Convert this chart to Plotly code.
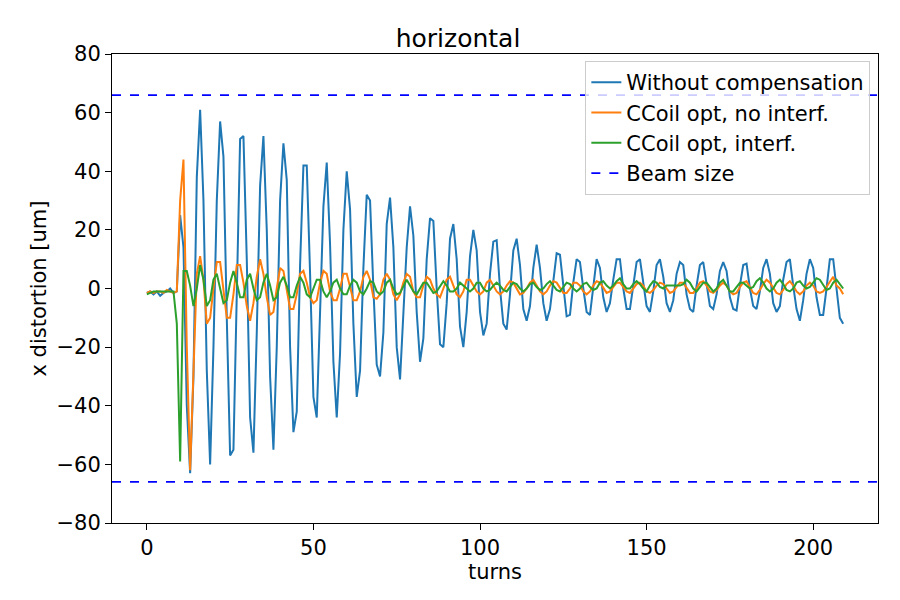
import plotly.graph_objects as go

turns = list(range(210))

# Without compensation
no_comp = [-1.5, -1, -2, -1, -2.5, -1.5, -1, 0, -1.5, -1,
           25, 14, -40, -63, -30, 38, 61, 30, -28, -60,
           -20, 30, 57, 45, -10, -57, -55, 0, 51, 52,
           10, -44, -56, -15, 35, 52, 20, -30, -55, -20,
           30, 49.5, 37, -20, -49, -42, 8, 42, 42, 5,
           -37, -44, -5, 28, 43, 15, -25, -44, -22, 20,
           40, 27, -12, -37, -28, 7, 32, 30, 0, -26,
           -30, -15, 22, 31, 14, -20, -31, -10, 14, 28,
           18, -8, -25, -17, 10, 24, 23, 0, -19, -20,
           -5, 17, 22, 10, -13, -20, -8, 11, 20, 13,
           -8, -16, -12, 5, 16, 16.5, 0, -12, -14, -2,
           13, 17, 8, -7, -11, -6, 7, 15, 7, -5,
           -11, -7, 3, 12, 11.5, 2, -9.5, -9, 2, 10,
           9, 0, -8, -9, 1, 10, 7, -3, -8, -5,
           3, 10, 10, 0, -7, -7, 1, 9, 10, 2,
           -6, -8, -1, 8, 10, 4, -5, -8, -4, 5,
           9, 8, -2, -7, -8, 1, 8, 9, 2, -6,
           -7, -2, 6, 9, 6, -3, -7, -7.5, 1, 8,
           8.5, 0, -6, -7, -1, 7, 10, 5, -5, -8,
           -6, 3, 9, 10, 1, -7, -11, -4, 5, 10,
           7, -3, -9, -9, 0, 10, 10, -1, -10, -12]

# CCoil opt, no interf.
no_interf = [-1.5, -1, -1.5, -1, -1, -1.5, -0.5, -1, -1.5, -1,
             30, 44, -20, -62, -25, 5, 11, 3, -12, -10,
             0, 9, 9, 0, -10, -10, -2, 8, 8, 2,
             -6, -11, -5, 4, 10, 5, -3, -9, -8, 0,
             7, 6, 0, -7, -7, -2, 5, 6, 2, -3,
             -5, -4, 2, 6, 5, -1, -4, -4, 0, 5,
             5, 0, -4, -4, -1, 4, 6, 3, -3, -3.5,
             -2, 3, 5, 3, -2, -4, -2, 2, 5, 4,
             -1, -3, -3, 1, 4, 3, 0, -2, -3, 0,
             3, 4, 1, -2, -3, -1, 3, 3, 1, -1,
             -2, -1, 2, 3, 1, -1, -2, -1, 1, 2.5,
             2, 0, -2, -1.5, 0, 2, 3, 1, -1, -2,
             -1, 1, 2.5, 2, 0, -1.5, -1.5, 0, 2, 2,
             1, -1, -2, -1, 1, 2.5, 2, 0, -1.5, -1,
             0.5, 2, 2, 0.5, -1, -1.5, 0, 1.5, 2, 1,
             -1, -1.5, -0.5, 1, 2, 1.5, 0, -1.5, -1, 0.5,
             2, 2, 0, -1.5, -1.5, 0, 2, 2.5, 1, -1,
             -1.5, -0.5, 1, 2, 1, -1, -2, -1.5, 0.5, 2,
             2.5, 0.5, -1.5, -2, -0.5, 1.5, 3, 2, 0, -1.5,
             -2, -0.5, 1.5, 2.5, 1, -1, -2, -1, 1, 2,
             1, -1, -1.5, -1, 0.5, 2.5, 4, 1, 0, -2]

# CCoil opt, interf.
interf = [-2, -1.5, -1, -1, -1, -1, -1, -1, -1, -12,
          -59, 6, 6, 1, -6, 0, 8, 3, -6, -4,
          3, 5, 0, -5, -4, 2, 6, 2, -3, -3,
          3, 5, 0, -4, -3, 2, 5, 1, -4, -3,
          2, 4, 1, -3, -3, 1, 4, 2, -2, -3,
          0, 3, 3, -1, -3, -1, 2, 3, 0, -2,
          -2, 1, 3, 2, -1, -2, 0, 2.5, 2, -1,
          -2, -1, 2, 3, 0, -2, -1.5, 1, 3, 1,
          -1, -2, 0, 2, 2, 0, -1.5, -1, 1, 2.5,
          1, -1, -1, 0, 2, 1, 0, -1, 0, 2,
          2, 0, -1, -0.5, 1, 2, 1, -0.5, -1, 0.5,
          2, 1.5, 0, -1, 0, 1.5, 2, 0.5, -0.5, 0,
          1.5, 2.5, 1, -0.5, -1, 0.5, 2, 1.5, 0, -1,
          0, 1.5, 2, 0.5, -0.5, 0, 2, 2.5, 1, 0,
          1, 2.5, 3.5, 1.5, 0, 0, 1.5, 2.5, 1.5, 0,
          -1, 1, 2.5, 2, 0.5, 0, 1, 1, 1, 1,
          1, 1.5, 3, 2, 0, -1, 0.5, 2, 2, 0.5,
          -1, 0, 2, 3, 1, -1, -1, 0.5, 2, 2,
          1, 0, 0.5, 2.5, 3.5, 2, 0, -1, 0, 2,
          3, 1.5, -0.5, -1, 0, 2, 2.5, 1, 0, 0.5,
          2, 3.5, 3, 1, -0.5, 0, 2, 3, 1.5, 0]

beam_size = 66

fig = go.Figure()
fig.add_trace(go.Scatter(x=turns, y=no_comp, mode="lines", name="Without compensation",
                         line=dict(color="#1f77b4", width=2)))
fig.add_trace(go.Scatter(x=turns, y=no_interf, mode="lines", name="CCoil opt, no interf.",
                         line=dict(color="#ff7f0e", width=2)))
fig.add_trace(go.Scatter(x=turns, y=interf, mode="lines", name="CCoil opt, interf.",
                         line=dict(color="#2ca02c", width=2)))
# beam size lines across the full axis width
xr = [-10.45, 219.45]
fig.add_trace(go.Scatter(x=xr, y=[beam_size, beam_size], mode="lines", name="Beam size",
                         line=dict(color="blue", width=1.8, dash="dash")))
fig.add_trace(go.Scatter(x=xr, y=[-beam_size, -beam_size], mode="lines", showlegend=False,
                         line=dict(color="blue", width=1.8, dash="dash")))

ax = dict(showgrid=False, zeroline=False, showline=True, linecolor="black", mirror=True,
          ticks="outside", ticklen=6, tickcolor="black", tickfont=dict(size=21))
fig.update_layout(
    width=900, height=600,
    paper_bgcolor="white", plot_bgcolor="white",
    font=dict(family="DejaVu Sans", color="black"),
    title=dict(text="horizontal", x=0.5, xanchor="center", y=0.965, font=dict(size=25)),
    margin=dict(l=104, r=30, t=46, b=85),
    xaxis=dict(ax, range=xr, tickvals=[0, 50, 100, 150, 200],
               title=dict(text="turns", font=dict(size=21), standoff=2)),
    yaxis=dict(ax, range=[-80, 80], tickvals=list(range(-80, 81, 20)),
               title=dict(text="x distortion [um]", font=dict(size=21), standoff=4)),
    legend=dict(x=0.99, y=0.985, xanchor="right", yanchor="top", font=dict(size=21),
                bordercolor="#cccccc", borderwidth=1, bgcolor="rgba(255,255,255,0.8)"),
)
fig.write_html("out.html")
